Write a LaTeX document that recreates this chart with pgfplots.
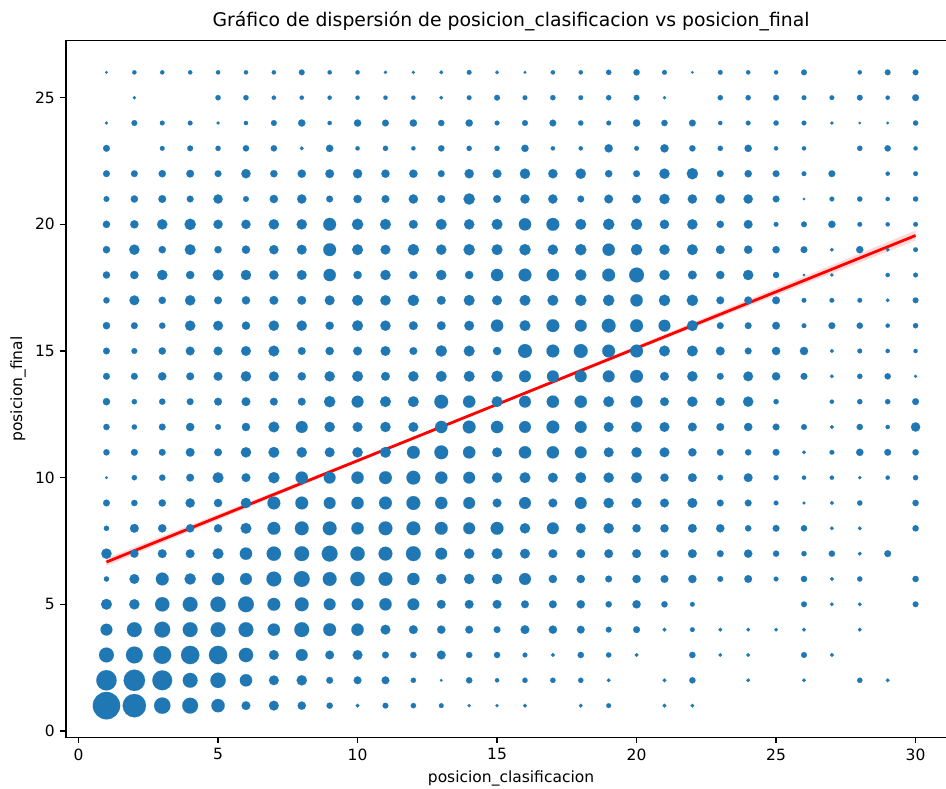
\documentclass[border=0pt]{standalone}
\usepackage{pgfplots}
\pgfplotsset{compat=1.18}
\usepackage{pgfplotstable}
\usepackage{fontspec}
\setmainfont{DejaVu Sans}
\definecolor{c0}{HTML}{1F77B4}

\pgfplotstableread{
y c1 c2 c3 c4 c5 c6 c7 c8 c9 c10 c11 c12 c13 c14 c15 c16 c17 c18 c19 c20 c21 c22 c23 c24 c25 c26 c27 c28 c29 c30
26 2.5 4 4 4 4 4 4 5.5 4 4 3 3 3.5 4.5 3.5 2.5 4 4 5 6 4.5 2.5 4.5 4 4 5.5 0 4 5.5 5.5
25 0 3 0 0 5 5 4 4 4 4 4 4 3.5 4.5 5.5 4.5 5 4.5 5 5.5 3 0 5 5 5.5 4.5 4.5 5.5 4 6.5
24 3 5.5 4.5 4.5 3 4 5.5 7 4 7 6.5 7 6 7 4.5 5.5 6.5 5 4.5 7 6 6.5 4 4.5 5 4.5 3 2.5 2.5 5
23 6.5 0 4.5 5.5 5 6 6 3.5 7 4 5 4 6 5 5 7 4 4 8 4.5 8 6 5 7 4 4 0 5 6 4
22 6.5 6.5 7 7.5 6.5 9 7 8 8.5 9 8 8 6.5 9 8.5 10 9 10 7 6.5 10 11 6.5 7 6.5 4.5 6.5 0 4 4.5
21 5.5 7 7.5 6.5 9 5.5 8 9 6.5 8 7.5 9 7.5 11 7.5 9 9 6.5 8.5 8.5 10 9 9 9 6.5 2.5 4.5 5 4 5
20 7 8 10 11 9 9 10 10 12.5 11 10.5 8.5 10.5 10 10.5 12 12.5 10.5 11 11 9 10 7 8.5 4.5 5.5 7 4.5 4 4.5
19 7 10 7 10.5 7 8 9 9.5 12.5 10.5 9.5 11 10 11 10.5 11 10 11 12 11 10 10.5 8.5 8 7 6.5 3.5 7 3.5 4.5
18 7 8 10 8 10.5 10 9 9.5 12 8 10 8 10 8 12 12.5 12 11 12.5 14.5 10 8.5 8 10 6 2.5 3 0 4 4.5
17 6 9.5 7 10 7.5 8 8.5 8.5 9.5 10.5 10 11 8.5 10.5 9.5 10.5 10.5 11 11 12 11 11 7.5 7.5 7.5 4.5 4.5 4.5 3.5 5.5
16 7 6.5 6 10 9.5 8 10 10 8 10.5 10 8.5 8.5 9.5 12 10.5 12.5 11.5 13.5 12.5 11.5 10.5 6.5 6.5 7.5 4.5 6.5 6 4 5
15 6.5 5.5 7 8.5 8.5 9.5 10.5 7.5 8 8.5 9.5 7.5 11 10.5 8 13.5 12.5 13.5 12.5 12.5 10.5 10.5 8.5 6.5 8 8 3.5 4.5 4 4
14 6.5 6.5 8 7.5 8.5 10 9.5 8 10 10.5 8.5 10 10.5 10.5 11 11.5 11.5 11.5 11.5 12.5 8.5 10 6.5 9.5 8 6.5 3.5 5 6 3
13 7 5 6 6.5 7.5 8.5 7.5 7.5 11 11.5 10.5 10.5 13.5 12 10.5 11.5 12 12 10.5 11.5 8.5 10 8.5 10 5 0 4 5 5 6.5
12 6 5 6.5 8 5.5 8 10.5 11.5 10 9.5 10 9.5 12 12.5 12 11.5 12.5 11.5 9.5 10.5 9.5 8.5 7.5 8 6.5 5.5 3.5 6 4 9
11 6 6.5 6.5 8.5 7.5 10 10.5 10 9.5 10 10.5 12.5 13.5 12 9.5 12 12 11.5 9.5 10 9.5 8 6.5 6 6.5 3.5 4.5 7 6.5 6
10 2.5 5 6 7.5 10.5 8.5 11 12 11.5 12 12.5 13.5 12 11.5 10 10.5 9.5 10.5 10 10.5 8 8.5 5.5 8.5 5 4 4 3 4 5
9 6.5 6 7 9 8 10 12.5 12.5 11.5 12 12.5 13.5 12 11.5 8.5 11.5 8.5 11.5 10 9.5 8.5 9.5 6.5 6.5 4.5 3 3.5 5 0 6
8 5 8.5 8 8 8 10.5 12.5 13.5 13.5 12 13.5 13.5 12.5 11.5 12.5 10 11.5 9.5 10 8 8 8.5 8 6 6.5 6 3.5 3.5 0 6
7 10 8 8.5 8.5 10.5 12 14 14.5 15.5 14 13.5 14.5 11.5 10 10.5 9.5 8.5 8.5 8.5 8.5 8 8.5 6.5 8 6 5 6 3.5 6.5 0
6 5 9.5 12.5 11 12 11.5 14.5 15.5 13.5 14 13.5 12 10 10 10 11.5 8 8 6.5 8 7.5 8 5.5 7.5 4.5 6 3.5 5 0 6
5 10.5 10 14 14.5 15 15.5 12.5 13.5 11.5 11.5 12 11.5 8.5 8.5 8.5 7.5 7.5 8 6 8 6 4.5 0 0 0 5.5 3.5 3.5 0 5.5
4 11.5 14.5 15.5 14.5 14.5 14.5 12 14.5 12.5 12 9.5 8.5 8 7.5 6.5 8.5 8 7.5 5.5 6.5 3.5 4.5 3.5 3.5 3.5 3.5 0 3.5 0 0
3 14.5 16.5 17.5 18 18 14 9.5 11.5 8.5 9.5 6.5 6 8.5 6 6 4.5 3.5 6 5 3.5 0 6 3.5 3.5 0 5.5 3.5 0 0 0
2 20 21 19.5 14.5 15 12 9.5 10 6.5 7.5 7.5 5 2.5 6 4 5 5 5 3.5 0 3.5 6 0 3.5 0 3.5 0 5 3.5 0
1 27 23 16 15.5 13 8.5 9.5 8 6 3.5 5.5 5 4.5 3 3 3.5 0 3.5 4.5 0 3.5 3.5 0 0 0 0 0 0 0 0
}\dtab

\begin{document}
\begin{tikzpicture}
\begin{axis}[
  name=ax,
  scale only axis,
  width=880pt, height=696.6pt,
  xmin=-0.45, xmax=31.09,
  ymin=-0.25, ymax=27.25,
  axis line style={draw=none},
  xtick={0,5,...,30},
  ytick={0,5,...,25},
  tick pos=left,
  tick align=outside,
  major tick length=5.5pt,
  tick style={black, line width=1.2pt},
  tick label style={font=\fontsize{15.5}{18}\selectfont, inner sep=0pt},
  xticklabel style={anchor=north, yshift=-5.5pt},
  yticklabel style={anchor=east, xshift=-5.5pt},
  /pgf/number format/assume math mode=true,
  title={Gráfico de dispersión de posicion\_clasificacion vs posicion\_final},
  every axis title/.style={at={(0.5057,1)}, anchor=center, yshift=19.2pt, font=\fontsize{18.8}{22}\selectfont},
  xlabel={posicion\_clasificacion},
  every axis x label/.style={at={(0.5057,0)}, anchor=center, yshift=-40.7pt, font=\fontsize{15.5}{18}\selectfont},
  ylabel={posicion\_final},
  every axis y label/.style={at={(-0.0545,0.5)}, rotate=90, anchor=center, font=\fontsize{15.5}{18}\selectfont},
  clip=false,
]
\pgfplotsinvokeforeach{1,...,30}{
  \addplot[scatter, only marks, mark=*, draw=c0, fill=c0, line width=0.1pt,
    scatter/use mapped color={draw=c0, fill=c0},
    visualization depends on={\thisrow{c#1} \as \dd},
    scatter/@pre marker code/.append style={/tikz/mark size={\dd/2+0.15}},
    restrict expr to domain={\thisrow{c#1}}{0.1:100},
  ] table[x expr=#1, y=y] {\dtab};
}
\addplot[fill=red, fill opacity=0.15, draw=none] coordinates {
  (1,6.82) (10,10.73) (15,12.94) (20,15.20) (30,19.76)
  (30,19.36) (20,15.04) (15,12.84) (10,10.61) (1,6.52)};
\addplot[red, line width=2.8pt] coordinates {(1,6.67) (30,19.56)};
\end{axis}
\draw[black, line width=1.2pt] (ax.north east) -- (ax.north west) -- (ax.south west) -- (ax.south east);
\pgfresetboundingbox
\useasboundingbox (-66pt,-50.7pt) rectangle (880pt,737.3pt);
\end{tikzpicture}
\end{document}
